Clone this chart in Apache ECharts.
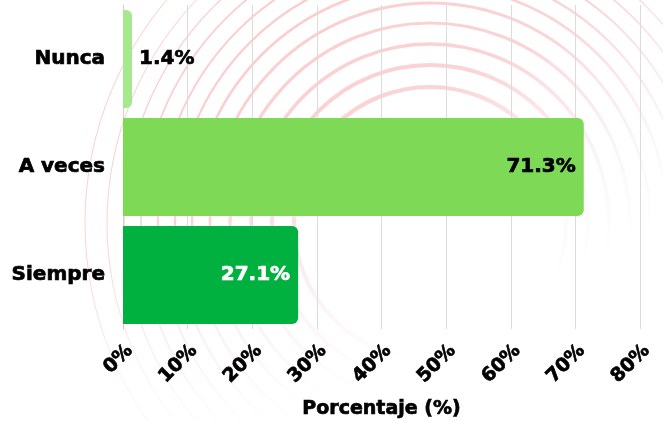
<!DOCTYPE html>
<html>
<head>
<meta charset="utf-8">
<script src="https://cdn.jsdelivr.net/npm/echarts@6/dist/echarts.min.js"></script>
<style>
  html, body { margin: 0; padding: 0; background: #ffffff; }
  #chart { width: 663px; height: 421px; }
</style>
</head>
<body>
<div id="chart"></div>
<script>
// Survey answers and their share of respondents (%)
const categories = ['Nunca', 'A veces', 'Siempre'];
const percentages = [1.4, 71.3, 27.1];
const xTicks = [0, 10, 20, 30, 40, 50, 60, 70, 80];
const axisTitle = 'Porcentaje (%)';

// Bar fills and value label colours, one per answer
const barColors = ['#a6e88e', '#7ed957', '#00b140'];
const labelColors = ['#000000', '#000000', '#ffffff'];
const labelPositions = ['right', 'insideRight', 'insideRight'];

const FONT = '"DejaVu Sans", Lato, sans-serif';
// a thin outline of the text colour gives the heavy display weight
const heavy = (color) => ({ textBorderColor: color, textBorderWidth: 0.7 });

// Decorative concentric rings behind the plot, fading towards the lower right
const ringRadii = [136, 158, 179, 200, 220, 238, 255, 272, 289, 306, 323, 345];
const ringStroke = {
  type: 'linear', x: 300, y: 0, x2: 520, y2: 420, global: true,
  colorStops: [
    { offset: 0, color: 'rgba(238,70,70,0.27)' },
    { offset: 0.3, color: 'rgba(236,75,80,0.24)' },
    { offset: 0.5, color: 'rgba(225,110,130,0.13)' },
    { offset: 0.66, color: 'rgba(190,150,180,0.05)' },
    { offset: 0.78, color: 'rgba(200,180,200,0)' }
  ]
};
const rings = ringRadii.map((r, i) => ({
  type: 'circle',
  silent: true,
  z: -10,
  shape: { cx: 430, cy: 223, r: r },
  style: {
    fill: 'none',
    stroke: ringStroke,
    lineWidth: Math.max(1, 4.2 - i * 0.32)
  }
}));

const chart = echarts.init(document.getElementById('chart'), null, { renderer: 'canvas' });

chart.setOption({
  backgroundColor: '#ffffff',
  animation: false,
  graphic: rings,
  grid: {
    left: 123, right: 23, top: 5, height: 324,
    containLabel: false,
    outerBoundsMode: 'none'   // keep the plot box fixed; labels are placed by hand
  },
  xAxis: {
    type: 'value',
    min: xTicks[0],
    max: xTicks[xTicks.length - 1],
    interval: xTicks[1] - xTicks[0],
    name: axisTitle,
    nameLocation: 'middle',
    nameGap: 71,
    nameTextStyle: Object.assign({ fontFamily: FONT, fontWeight: 'bold', fontSize: 19, color: '#000' }, heavy('#000')),
    axisLine: { show: false },
    axisTick: { show: false },
    axisLabel: Object.assign({
      rotate: 45,
      margin: 12,
      verticalAlign: 'top',
      formatter: '{value}%',
      fontFamily: FONT,
      fontWeight: 'bold',
      fontSize: 19,
      color: '#000'
    }, heavy('#000')),
    splitLine: { show: true, lineStyle: { color: '#dcdcdc', width: 1 } }
  },
  yAxis: {
    type: 'category',
    inverse: true,
    data: categories,
    axisLine: { show: true, lineStyle: { color: '#cfcfcf' } },
    axisTick: { show: false },
    axisLabel: Object.assign({
      margin: 18,
      fontFamily: FONT,
      fontWeight: 'bold',
      fontSize: 20,
      color: '#000'
    }, heavy('#000')),
    splitLine: { show: false }
  },
  series: [{
    type: 'bar',
    barWidth: 98,
    data: percentages.map((v, i) => ({
      value: v,
      itemStyle: { color: barColors[i], borderRadius: [0, 6, 6, 0] },
      label: Object.assign({
        show: true,
        position: labelPositions[i],
        distance: labelPositions[i] === 'right' ? 7 : 8,
        color: labelColors[i],
        formatter: '{c}%',
        fontFamily: FONT,
        fontWeight: 'bold',
        fontSize: 20
      }, heavy(labelColors[i]))
    }))
  }]
});
</script>
</body>
</html>
